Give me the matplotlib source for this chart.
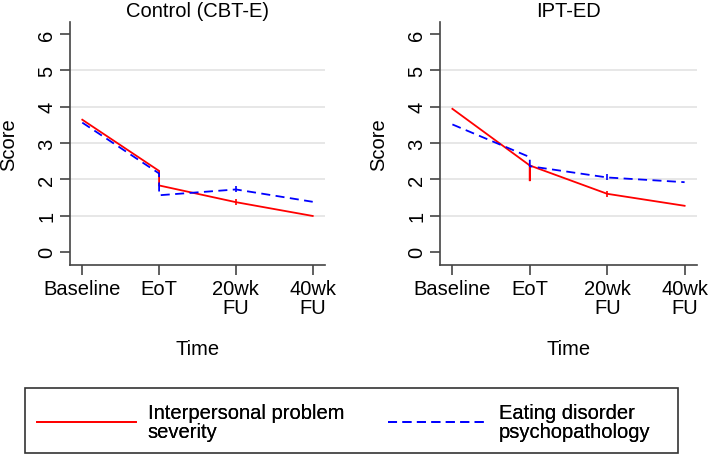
import matplotlib
matplotlib.use("Agg")
import matplotlib.pyplot as plt
from matplotlib.lines import Line2D
from matplotlib.patches import Rectangle

plt.rcParams['font.family'] = ['Liberation Sans', 'DejaVu Sans']

time_labels = ["Baseline", "EoT", "20wk\nFU", "40wk\nFU"]
time_pos = [0, 1, 2, 3]

# Path of each line (x index, score); EoT appears twice (pre/post jump)
ctrl_ips_x = [0, 1, 1, 2, 3]
ctrl_ips_y = [3.64, 2.23, 1.83, 1.37, 0.99]
ctrl_edp_x = [0, 1, 1, 2, 3]
ctrl_edp_y = [3.56, 2.16, 1.56, 1.72, 1.38]

ipt_ips_x = [0, 1, 1, 1, 2, 3]
ipt_ips_y = [3.94, 2.38, 1.95, 2.38, 1.60, 1.27]
ipt_edp_x = [0, 1, 1, 2, 3]
ipt_edp_y = [3.51, 2.61, 2.36, 2.05, 1.92]

titles = ["Control (CBT-E)", "IPT-ED"]
series_labels = ["Interpersonal problem\nseverity", "Eating disorder\npsychopathology"]

W, H = 709, 456
fig = plt.figure(figsize=(W / 100, H / 100), dpi=100)

FS = 14.5
axes_px = [(70, 325), (440, 697)]
top_px, bot_px = 23, 266

panels = [
    (ctrl_ips_x, ctrl_ips_y, ctrl_edp_x, ctrl_edp_y),
    (ipt_ips_x, ipt_ips_y, ipt_edp_x, ipt_edp_y),
]
RED, BLUE = '#ff0000', '#0000ff'
DASH = (0, (5, 3))

for (l, r), title, (ix, iy, ex, ey) in zip(axes_px, titles, panels):
    ax = fig.add_axes([l / W, 1 - bot_px / H, (r - l) / W, (bot_px - top_px) / H])
    ax.set_xlim(-0.16, 3.16)
    ax.set_ylim(-0.36, 6.33)
    for g in [1, 2, 3, 4, 5]:
        ax.axhline(g, color='#e3e3e3', lw=1.2, zorder=0)
    ax.plot(ix, iy, color=RED, lw=1.3, solid_joinstyle='miter', zorder=3)
    ax.plot(ex, ey, color=BLUE, lw=1.3, ls=DASH, zorder=3)
    # small marks at 20wk
    ax.plot([ix[-2]], [iy[-2]], marker='|', ms=4, color=RED, mew=1.2, zorder=3)
    ax.plot([ex[-2]], [ey[-2]], marker='|', ms=5, color=BLUE, mew=1.2, zorder=3)

    ax.set_xticks(time_pos)
    ax.set_xticklabels(time_labels, fontsize=FS, linespacing=1.0)
    ax.set_yticks([0, 1, 2, 3, 4, 5, 6])
    ax.set_yticklabels([str(v) for v in range(7)], fontsize=FS, rotation=90, va='center')
    ax.tick_params(axis='both', length=7, width=1.2, color='#444444', direction='out', pad=3)
    for s in ['top', 'right']:
        ax.spines[s].set_visible(False)
    for s in ['left', 'bottom']:
        ax.spines[s].set_color('#444444')
        ax.spines[s].set_linewidth(1.2)
    ax.set_ylabel("Score", fontsize=FS, labelpad=14)
    ax.set_xlabel("Time", fontsize=FS, labelpad=16)
    ax.set_title(title, fontsize=FS, pad=4)

# legend box
fig.patches.append(Rectangle((25 / W, 1 - 454 / H), 653 / W, 65 / H,
                             transform=fig.transFigure, fill=False,
                             edgecolor='#333333', lw=1.2))
handles = [
    Line2D([], [], color=RED, lw=1.3),
    Line2D([], [], color=BLUE, lw=1.3, ls=DASH),
]
starts = [37, 388]
for h, lab, x0 in zip(handles, series_labels, starts):
    lg = fig.legend([h], [lab], loc='center left',
                    bbox_to_anchor=(x0 / W, 1 - 423 / H), fontsize=FS,
                    handlelength=4.9, handletextpad=0.6, frameon=False,
                    borderpad=0, borderaxespad=0)
    for t in lg.get_texts():
        t.set_linespacing(1.0)
    fig.add_artist(lg)

fig.savefig("out.png", dpi=100)
